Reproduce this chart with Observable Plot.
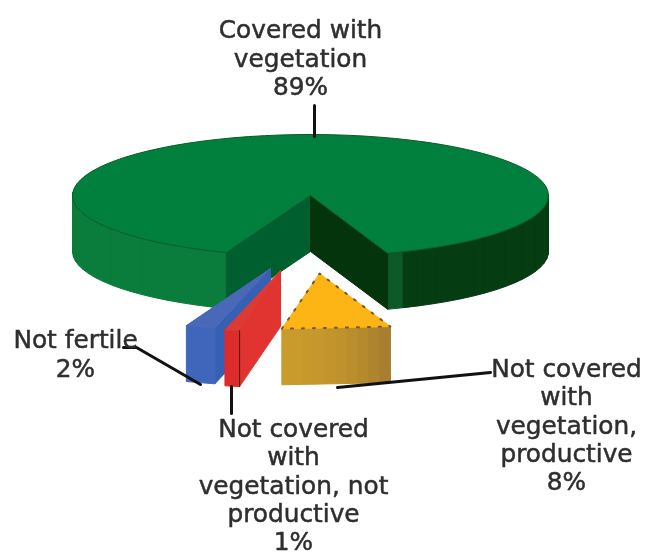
<!DOCTYPE html>
<html><head><meta charset="utf-8">
<script src="https://cdn.jsdelivr.net/npm/d3@7"></script>
<script src="https://cdn.jsdelivr.net/npm/@observablehq/plot@0.6"></script>
<style>html,body{margin:0;background:#fff}svg{display:block;filter:blur(.7px)}</style>
</head><body><div id="chart"></div>
<script>
// Data
const sliceNames = ["Not fertile", "Not covered with vegetation, not productive", "Not covered with vegetation, productive", "Covered with vegetation"];
const sliceValues = [2, 1, 8, 89];
const sliceLabels = [
  "Not fertile\n2%",
  "Not covered\nwith\nvegetation, not\nproductive\n1%",
  "Not covered\nwith\nvegetation,\nproductive\n8%",
  "Covered with\nvegetation\n89%"
];

// Look of the pie: screen frame, tilt, explosion and colours
const W = 648, H = 555, cx = 310, cy = 195, rx = 238, ry = 61;
const depth = 56 / ry;
const firstAngle = -20.7;
const explode = [[-40 / rx, 73 / ry, 1], [-30 / rx, 75 / ry, 1], [9 / rx, 78 / ry, .92]];
const faceColors = [
  {top: "#4a68b8", front: "#3f66bb", wall: "#3560b4"},
  {top: "#dc3a34", front: "#de2c2c", wall: "#e1332f"},
  {top: "#fdb515", front: ["#c99a2c", "#a77f2e"], wall: "#c99a2c"}
];

const faces = [];
let fid = 0;
function face(pts, fill, stroke = fill) {
  const id = fid++;
  [...pts, pts[0]].forEach(([x, y]) => faces.push({id, x, y, fill, stroke}));
}
const rad = d => d * Math.PI / 180;
const pt = (t, r = 1, o = [0, 0]) => [o[0] + r * Math.sin(rad(t)), o[1] + r * Math.cos(rad(t))];
const down = ([x, y]) => [x, y + depth];

// Angles come from the values
const span = sliceValues.map(v => v / d3.sum(sliceValues) * 360);
let a = firstAngle;
const angles = span.map(s => { const r = [a, a + s]; a += s; return r; });

// Main slice: rim bands, inner walls, top
const [startA, endA] = angles[3];
const arc = d3.range(0, 81).map(i => startA + (endA - startA) * i / 80);
arc.slice(0, -1).forEach((t, i) => {
  const t2 = arc[i + 1];
  const rightSide = t < 90;
  const leftSide = t2 > 270;
  if (!rightSide && !leftSide) return;
  const k = rightSide ? Math.min(1, (t - startA) / 4) : 0;
  const fill = rightSide ? d3.interpolateRgb("#0b5a28", "#053c12")(k) : "#0a7c3b";
  face([pt(t), pt(t2), down(pt(t2)), down(pt(t))], fill);
});
const apex = [0, 0];
face([apex, pt(endA), down(pt(endA)), down(apex)], "#005f2e");
face([apex, pt(startA), down(pt(startA)), down(apex)], "#04340c");
face([apex, ...arc.map(t => pt(t))], "#00803c", "#0c5a2c");

// Exploded slices
[0, 1, 2].forEach(i => {
  const [u, v, r] = explode[i], o = [u, v];
  const [t0, t1] = angles[i];
  const A = o, L = pt(t0, r, o), R = pt(t1, r, o);
  const c = faceColors[i];
  if (i < 2) {
    face([A, R, down(R), down(A)], c.wall);
    face([L, R, down(R), down(L)], c.front);
    face([A, L, R], c.top);
    if (i === 1) faces.push({id: fid, x: R[0], y: R[1], fill: "none", stroke: "#5c1410"},
                            {id: fid++, x: down(R)[0], y: down(R)[1], fill: "none", stroke: "#5c1410"});
  } else {
    const n = 10;
    d3.range(n).forEach(j => {
      const lerp = q => [L[0] + (R[0] - L[0]) * q, L[1] + (R[1] - L[1]) * q];
      const P = lerp(j / n), Q = lerp((j + 1) / n);
      const col = d3.interpolateRgb(c.front[0], c.front[1])(Math.pow(j / (n - 1), 2));
      face([P, Q, down(Q), down(P)], col);
    });
    face([A, L, R], c.top);
  }
});
const oi = explode[2];
const oL = pt(angles[2][0], oi[2], oi), oR = pt(angles[2][1], oi[2], oi), oA = [oi[0], oi[1]];
const dotted = [oL, oA, oR, oL].map(([x, y]) => ({x, y}));

// Leader lines, from each slice to its label
const px = (X, Y) => [(X - cx) / rx, (Y - cy) / ry];
const leaders = [
  [px(314, 105), px(314, 136)],
  [px(123, 347), px(136, 347), px(200, 384)],
  [px(231, 386), px(231, 413)],
  [px(337, 387), px(490, 372)]
].flatMap((l, id) => l.map(([x, y]) => ({id, x, y})));

// Label anchors
const labelPos = [px(75, 353), px(293, 484), px(566, 424), px(300, 57)];
const labels = sliceLabels.map((text, i) => ({text, x: labelPos[i][0], y: labelPos[i][1]}));

const chart = Plot.plot({
  width: W, height: H, margin: 0,
  x: {domain: [-cx / rx, (W - cx) / rx], range: [0, W], axis: null},
  y: {domain: [-cy / ry, (H - cy) / ry], range: [0, H], axis: null},
  color: {type: "identity"},
  style: {background: "#fff"},
  marks: [
    Plot.line(faces, {x: "x", y: "y", z: "id", fill: "fill", stroke: "stroke", strokeWidth: 1, curve: "linear"}),
    Plot.line(dotted, {x: "x", y: "y", stroke: "#6e5a2c", strokeWidth: 2, strokeDasharray: "2 9", curve: "linear"}),
    Plot.line(leaders, {x: "x", y: "y", z: "id", stroke: "#111", strokeWidth: 3, curve: "linear"}),
    Plot.text(labels, {x: "x", y: "y", text: "text", fill: "#2e2e2e", stroke: "#2e2e2e", strokeWidth: .5, fontSize: 24.8, lineHeight: 1.14, lineAnchor: "middle",
      fontFamily: "'DejaVu Sans', sans-serif", textAnchor: "middle"})
  ]
});
document.getElementById("chart").append(chart);
</script></body></html>
